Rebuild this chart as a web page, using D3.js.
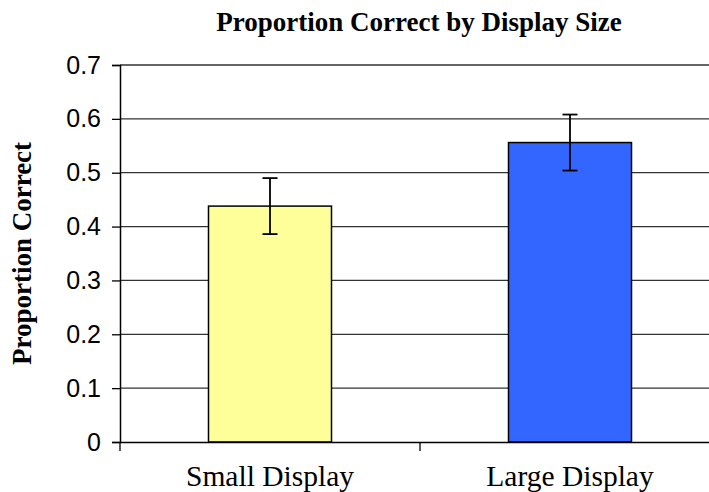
<!DOCTYPE html>
<html><head><meta charset="utf-8">
<script src="https://cdn.jsdelivr.net/npm/d3@7"></script>
<style>body{margin:0;background:#fff}svg{display:block}</style>
</head><body>
<script>
const categories = ["Small Display", "Large Display"];
const values = [0.438, 0.556];
const errors = [0.052, 0.052];
const colors = ["#FFFF99", "#3366FF"];
const yTicks = [0, 0.1, 0.2, 0.3, 0.4, 0.5, 0.6, 0.7];
const title = "Proportion Correct by Display Size";
const yTitle = "Proportion Correct";

const W = 709, H = 492;
const m = {left: 120, right: -11, top: 65, bottom: 50};
const svg = d3.select("body").append("svg").attr("width", W).attr("height", H);

const x = d3.scaleBand().domain(categories).range([m.left, W - m.right]).padding(0);
const y = d3.scaleLinear().domain([0, 0.7]).range([H - m.bottom, m.top]);

// gridlines
svg.append("g").selectAll("line").data(yTicks.slice(1)).join("line")
  .attr("x1", m.left).attr("x2", W - m.right)
  .attr("y1", d => y(d)).attr("y2", d => y(d))
  .attr("stroke", "#333").attr("stroke-width", 1.3);

// bars
const bw = x.bandwidth() * 0.41;
svg.append("g").selectAll("rect").data(categories).join("rect")
  .attr("x", d => x(d) + x.bandwidth()/2 - bw/2)
  .attr("width", bw)
  .attr("y", (d,i) => y(values[i]))
  .attr("height", (d,i) => y(0) - y(values[i]))
  .attr("fill", (d,i) => colors[i])
  .attr("stroke", "#000").attr("stroke-width", 1.5);

// error bars
const eg = svg.append("g").attr("stroke", "#000").attr("stroke-width", 1.8);
categories.forEach((c, i) => {
  const cx = x(c) + x.bandwidth()/2;
  eg.append("line").attr("x1", cx).attr("x2", cx).attr("y1", y(values[i]+errors[i])).attr("y2", y(values[i]-errors[i]));
  eg.append("line").attr("x1", cx-7.5).attr("x2", cx+7.5).attr("y1", y(values[i]+errors[i])).attr("y2", y(values[i]+errors[i]));
  eg.append("line").attr("x1", cx-7.5).attr("x2", cx+7.5).attr("y1", y(values[i]-errors[i])).attr("y2", y(values[i]-errors[i]));
});

// y axis
const ya = svg.append("g").attr("transform", `translate(${m.left},0)`)
  .call(d3.axisLeft(y).tickValues(yTicks).tickFormat(d => d === 0 ? "0" : d3.format(".1f")(d)).tickSize(8).tickPadding(11));
ya.select(".domain").attr("stroke", "#000").attr("stroke-width", 1.5);
ya.selectAll(".tick line").attr("stroke", "#000").attr("stroke-width", 1.3);
ya.selectAll("text").attr("font-family", "Liberation Sans, Arial, sans-serif").attr("font-size", 25).attr("fill", "#000");

// x axis
const xa = svg.append("g").attr("transform", `translate(0,${y(0)})`)
  .call(d3.axisBottom(x).tickSize(0).tickPadding(23));
xa.select(".domain").attr("stroke", "#000").attr("stroke-width", 1.5);
xa.selectAll("text").attr("font-family", "Liberation Serif, Times New Roman, serif").attr("font-size", 29.5).attr("fill", "#000");
// boundary ticks
const bounds = categories.map(c => x(c)).concat([x(categories[categories.length-1]) + x.bandwidth()]);
xa.append("g").selectAll("line").data(bounds).join("line")
  .attr("x1", d => d).attr("x2", d => d).attr("y1", 0).attr("y2", 9)
  .attr("stroke", "#000").attr("stroke-width", 1.3);

// title
svg.append("text").attr("x", 419).attr("y", 31).attr("text-anchor", "middle")
  .attr("font-family", "Liberation Serif, Times New Roman, serif").attr("font-weight", "bold").attr("font-size", 27)
  .text(title);

// y title
svg.append("text").attr("transform", `translate(31,${(y(0)+y(0.7))/2}) rotate(-90)`).attr("text-anchor", "middle")
  .attr("font-family", "Liberation Serif, Times New Roman, serif").attr("font-weight", "bold").attr("font-size", 27)
  .text(yTitle);
</script>
</body></html>
